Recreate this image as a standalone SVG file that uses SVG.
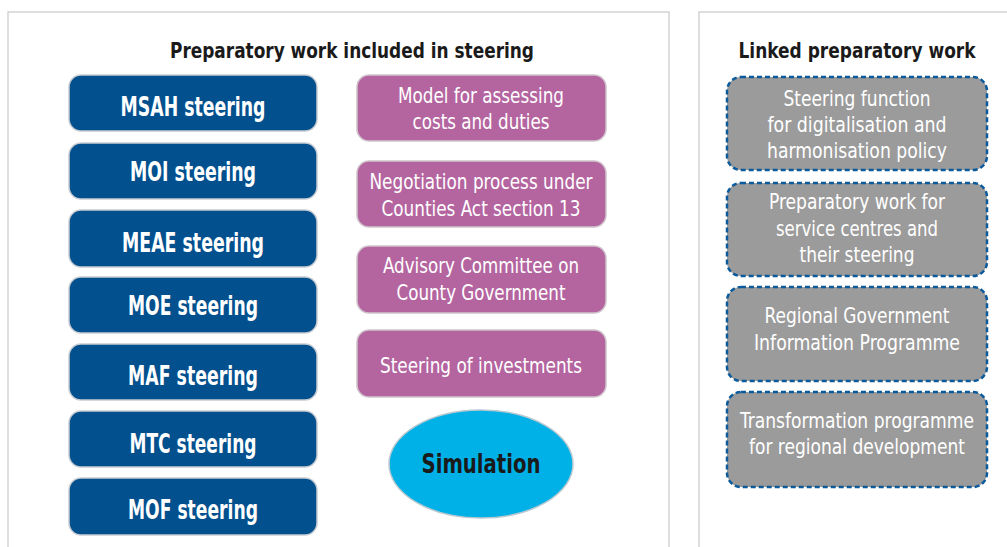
<svg xmlns="http://www.w3.org/2000/svg" width="1007" height="547" viewBox="0 0 1007 547">
  <style>
    text { font-family: "DejaVu Sans Condensed", "Liberation Sans", sans-serif; text-anchor: middle; }
    .panel { fill: #ffffff; stroke: #d4d4d4; stroke-width: 1.5; }
    .head { font-size: 21px; font-weight: bold; fill: #1a1a1a; }
    .blue { fill: #02508e; stroke: #c8ccd2; stroke-width: 1.5; }
    .blue-t { font-size: 27px; font-weight: bold; fill: #ffffff; }
    .pink { fill: #b4659f; stroke: #cfc4cc; stroke-width: 1.5; }
    .pink-t { font-size: 21px; fill: #ffffff; }
    .grey { fill: #9b9b9b; stroke: #0b5a9b; stroke-width: 2.5; stroke-dasharray: 5 3; }
    .grey-t { font-size: 21px; fill: #ffffff; }
    .sim { fill: #00b1e8; stroke: #b8c8d0; stroke-width: 1.5; }
    .sim-t { font-size: 27px; font-weight: bold; fill: #1a1a1a; }
  </style>

  <rect width="1007" height="547" fill="#ffffff"/>

  <!-- panels -->
  <rect class="panel" x="8" y="12" width="661" height="545"/>
  <rect class="panel" x="699" y="12" width="320" height="545"/>

  <text class="head" x="352" y="58" textLength="364" lengthAdjust="spacingAndGlyphs">Preparatory work included in steering</text>
  <text class="head" x="857" y="58" textLength="237" lengthAdjust="spacingAndGlyphs">Linked preparatory work</text>

  <!-- ministry steering boxes -->
  <g id="msah"><rect class="blue" x="69" y="75" width="248" height="56" rx="12"/><text class="blue-t" x="193" y="116" textLength="145" lengthAdjust="spacingAndGlyphs">MSAH steering</text></g>
  <g id="moi"><rect class="blue" x="69" y="143" width="248" height="56" rx="12"/><text class="blue-t" x="193" y="181" textLength="126" lengthAdjust="spacingAndGlyphs">MOI steering</text></g>
  <g id="meae"><rect class="blue" x="69" y="210" width="248" height="57" rx="12"/><text class="blue-t" x="193" y="252" textLength="142" lengthAdjust="spacingAndGlyphs">MEAE steering</text></g>
  <g id="moe"><rect class="blue" x="69" y="277" width="248" height="56" rx="12"/><text class="blue-t" x="193" y="315" textLength="130" lengthAdjust="spacingAndGlyphs">MOE steering</text></g>
  <g id="maf"><rect class="blue" x="69" y="344" width="248" height="56" rx="12"/><text class="blue-t" x="193" y="385" textLength="130" lengthAdjust="spacingAndGlyphs">MAF steering</text></g>
  <g id="mtc"><rect class="blue" x="69" y="411" width="248" height="56" rx="12"/><text class="blue-t" x="193" y="453" textLength="127" lengthAdjust="spacingAndGlyphs">MTC steering</text></g>
  <g id="mof"><rect class="blue" x="69" y="478" width="248" height="57" rx="12"/><text class="blue-t" x="193" y="519" textLength="130" lengthAdjust="spacingAndGlyphs">MOF steering</text></g>

  <!-- included preparatory work -->
  <g id="model"><rect class="pink" x="357" y="75" width="249" height="66" rx="12"/>
    <text class="pink-t" x="481" y="103" textLength="166" lengthAdjust="spacingAndGlyphs">Model for assessing</text>
    <text class="pink-t" x="481" y="129" textLength="137" lengthAdjust="spacingAndGlyphs">costs and duties</text></g>
  <g id="negotiation"><rect class="pink" x="357" y="161" width="249" height="66" rx="12"/>
    <text class="pink-t" x="481" y="189" textLength="223" lengthAdjust="spacingAndGlyphs">Negotiation process under</text>
    <text class="pink-t" x="481" y="216" textLength="199" lengthAdjust="spacingAndGlyphs">Counties Act section 13</text></g>
  <g id="advisory"><rect class="pink" x="357" y="246" width="249" height="67" rx="12"/>
    <text class="pink-t" x="481" y="273" textLength="196" lengthAdjust="spacingAndGlyphs">Advisory Committee on</text>
    <text class="pink-t" x="481" y="300" textLength="169" lengthAdjust="spacingAndGlyphs">County Government</text></g>
  <g id="investments"><rect class="pink" x="357" y="330" width="249" height="67" rx="12"/>
    <text class="pink-t" x="481" y="373" textLength="202" lengthAdjust="spacingAndGlyphs">Steering of investments</text></g>

  <g id="simulation"><ellipse class="sim" cx="481" cy="464" rx="92" ry="54"/>
    <text class="sim-t" x="481" y="473" textLength="119" lengthAdjust="spacingAndGlyphs">Simulation</text></g>

  <!-- linked preparatory work -->
  <g id="digital"><rect class="grey" x="727" y="77" width="260" height="93" rx="14"/>
    <text class="grey-t" x="857" y="106" textLength="147" lengthAdjust="spacingAndGlyphs">Steering function</text>
    <text class="grey-t" x="857" y="132" textLength="179" lengthAdjust="spacingAndGlyphs">for digitalisation and</text>
    <text class="grey-t" x="857" y="158" textLength="180" lengthAdjust="spacingAndGlyphs">harmonisation policy</text></g>
  <g id="service"><rect class="grey" x="727" y="183" width="260" height="93" rx="14"/>
    <text class="grey-t" x="857" y="209" textLength="176" lengthAdjust="spacingAndGlyphs">Preparatory work for</text>
    <text class="grey-t" x="857" y="236" textLength="162" lengthAdjust="spacingAndGlyphs">service centres and</text>
    <text class="grey-t" x="857" y="262" textLength="115" lengthAdjust="spacingAndGlyphs">their steering</text></g>
  <g id="info"><rect class="grey" x="727" y="287" width="260" height="94" rx="14"/>
    <text class="grey-t" x="857" y="323" textLength="185" lengthAdjust="spacingAndGlyphs">Regional Government</text>
    <text class="grey-t" x="857" y="350" textLength="206" lengthAdjust="spacingAndGlyphs">Information Programme</text></g>
  <g id="transform"><rect class="grey" x="727" y="392" width="260" height="95" rx="14"/>
    <text class="grey-t" x="857" y="428" textLength="234" lengthAdjust="spacingAndGlyphs">Transformation programme</text>
    <text class="grey-t" x="857" y="454" textLength="216" lengthAdjust="spacingAndGlyphs">for regional development</text></g>

  <g id="connectors"></g>
</svg>
